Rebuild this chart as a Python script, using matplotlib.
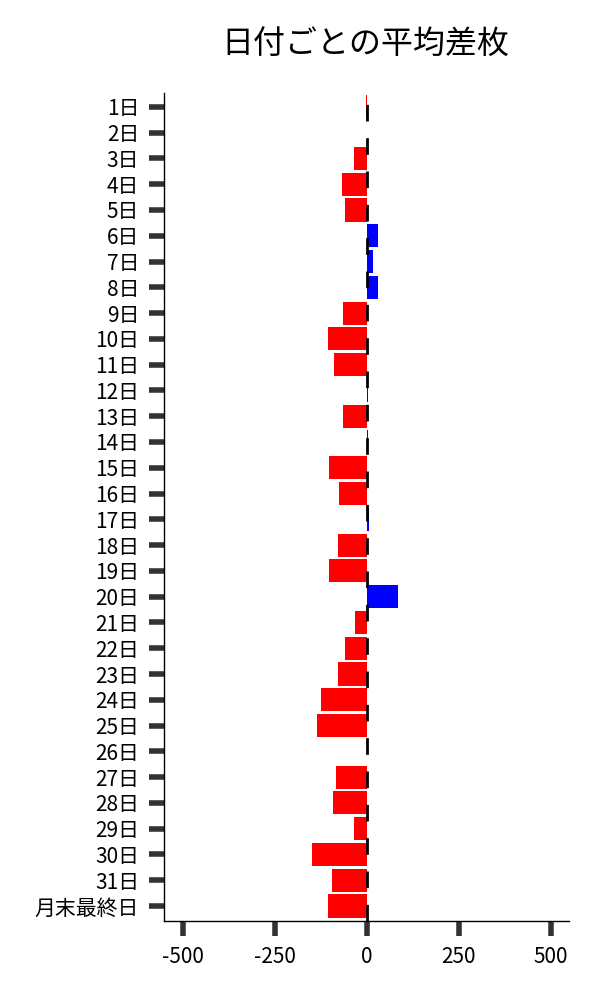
import matplotlib
matplotlib.use("Agg")
import matplotlib.pyplot as plt
import numpy as np

plt.rcParams['font.family'] = ['Noto Sans CJK JP', 'DejaVu Sans']

categories = [f"{d}日" for d in range(1, 32)] + ["月末最終日"]
values = [-2, 0, -35, -68, -60, 30, 16, 30, -65, -106, -90, 2, -65, 4, -103,
          -76, 7, -79, -103, 84, -33, -60, -79, -125, -136, 1, -84, -92, -35,
          -149, -95, -106]
xticks = [-500, -250, 0, 250, 500]
title = "日付ごとの平均差枚"

colors = ['#0000FF' if v > 0 else '#FF0000' for v in values]

fig = plt.figure(figsize=(6, 10), dpi=100)
ax = fig.add_axes([0.2738, 0.0793, 0.675, 0.828])

y = np.arange(len(categories))
ax.barh(y, values, height=0.9, color=colors, zorder=2)
ax.axvline(0, color='black', lw=2, dashes=(6, 6), zorder=3)

ax.set_yticks(y)
ax.set_yticklabels(categories, fontsize=15)
ax.set_ylim(len(categories) - 0.43, -0.55)
ax.set_xlim(-550, 550)
ax.set_xticks(xticks)
ax.set_xticklabels([str(t) for t in xticks], fontsize=15)

for s in ['top', 'right']:
    ax.spines[s].set_visible(False)
for s in ['left', 'bottom']:
    ax.spines[s].set_linewidth(1.0)
    ax.spines[s].set_color('black')

ax.tick_params(axis='both', which='major', length=11, width=4.0,
               color='#333333', pad=7)

fig.text(0.609, 0.955, title, fontsize=23, ha='center', va='center')

fig.savefig("out.png", dpi=100)
